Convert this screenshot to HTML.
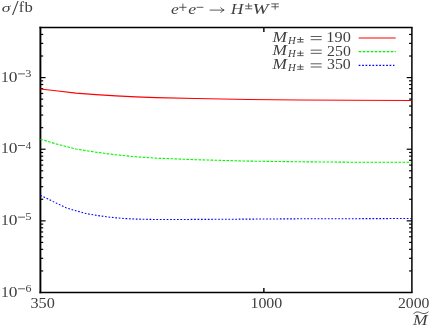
<!DOCTYPE html>
<html><head><meta charset="utf-8"><style>
html,body{margin:0;padding:0;background:#fff;}
svg{display:block}
text{font-family:"Liberation Serif",serif;fill:#3e3e3e;}
</style></head><body>
<svg width="432" height="327" viewBox="0 0 432 327">
<rect width="432" height="327" fill="#fff"/>
<g stroke="#000" fill="none">
<path d="M40.4,26.80 V293.20" stroke-width="1.9"/>
<path d="M39.45,27.5 H412.65" stroke-width="1.5"/>
<path d="M39.45,292.5 H412.65" stroke-width="1.5"/>
<path d="M411.9,27.5 V292.5" stroke-width="1.5"/>
<g stroke-width="1.2">
<path d="M40.4,270.93 h2.8"/>
<path d="M411.9,270.93 h-2.8"/>
<path d="M40.4,258.32 h2.8"/>
<path d="M411.9,258.32 h-2.8"/>
<path d="M40.4,249.37 h2.8"/>
<path d="M411.9,249.37 h-2.8"/>
<path d="M40.4,242.42 h2.8"/>
<path d="M411.9,242.42 h-2.8"/>
<path d="M40.4,236.75 h2.8"/>
<path d="M411.9,236.75 h-2.8"/>
<path d="M40.4,231.96 h2.8"/>
<path d="M411.9,231.96 h-2.8"/>
<path d="M40.4,227.80 h2.8"/>
<path d="M411.9,227.80 h-2.8"/>
<path d="M40.4,224.14 h2.8"/>
<path d="M411.9,224.14 h-2.8"/>
<path d="M40.4,220.86 h5.2"/>
<path d="M411.9,220.86 h-5.2"/>
<path d="M40.4,199.29 h2.8"/>
<path d="M411.9,199.29 h-2.8"/>
<path d="M40.4,186.68 h2.8"/>
<path d="M411.9,186.68 h-2.8"/>
<path d="M40.4,177.73 h2.8"/>
<path d="M411.9,177.73 h-2.8"/>
<path d="M40.4,170.78 h2.8"/>
<path d="M411.9,170.78 h-2.8"/>
<path d="M40.4,165.11 h2.8"/>
<path d="M411.9,165.11 h-2.8"/>
<path d="M40.4,160.31 h2.8"/>
<path d="M411.9,160.31 h-2.8"/>
<path d="M40.4,156.16 h2.8"/>
<path d="M411.9,156.16 h-2.8"/>
<path d="M40.4,152.50 h2.8"/>
<path d="M411.9,152.50 h-2.8"/>
<path d="M40.4,149.22 h5.2"/>
<path d="M411.9,149.22 h-5.2"/>
<path d="M40.4,127.65 h2.8"/>
<path d="M411.9,127.65 h-2.8"/>
<path d="M40.4,115.04 h2.8"/>
<path d="M411.9,115.04 h-2.8"/>
<path d="M40.4,106.08 h2.8"/>
<path d="M411.9,106.08 h-2.8"/>
<path d="M40.4,99.14 h2.8"/>
<path d="M411.9,99.14 h-2.8"/>
<path d="M40.4,93.47 h2.8"/>
<path d="M411.9,93.47 h-2.8"/>
<path d="M40.4,88.67 h2.8"/>
<path d="M411.9,88.67 h-2.8"/>
<path d="M40.4,84.52 h2.8"/>
<path d="M411.9,84.52 h-2.8"/>
<path d="M40.4,80.85 h2.8"/>
<path d="M411.9,80.85 h-2.8"/>
<path d="M40.4,77.58 h5.2"/>
<path d="M411.9,77.58 h-5.2"/>
<path d="M40.4,56.01 h2.8"/>
<path d="M411.9,56.01 h-2.8"/>
<path d="M40.4,43.39 h2.8"/>
<path d="M411.9,43.39 h-2.8"/>
<path d="M40.4,34.44 h2.8"/>
<path d="M411.9,34.44 h-2.8"/>
<path d="M263.86,292.5 v-4.5" stroke-width="1.4"/>
<path d="M263.86,27.5 v4.5" stroke-width="1.4"/>
</g>
</g>
<path d="M40.40,89.00 L58.00,91.00 L76.00,93.10 L96.00,94.60 L116.00,95.90 L136.00,96.90 L156.00,97.60 L196.00,98.50 L248.00,99.50 L300.00,100.00 L352.00,100.30 L411.50,100.45" stroke="#ff0000" stroke-width="1.15" fill="none"/>
<path d="M40.40,139.20 L56.00,143.85 L76.00,149.00 L96.00,152.20 L116.00,154.80 L136.00,156.80 L156.00,158.15 L196.00,159.70 L236.00,160.80 L248.00,161.10 L300.00,161.80 L352.00,162.20 L411.50,162.30" stroke="#00f600" stroke-width="1.1" fill="none" stroke-dasharray="2.7 1.3"/>
<path d="M40.40,195.30 L56.00,203.00 L66.00,207.80 L76.00,210.80 L86.00,213.50 L96.00,215.30 L106.00,216.70 L116.00,217.85 L126.00,218.60 L136.00,219.10 L156.00,219.50 L200.00,219.40 L250.00,219.10 L300.00,218.80 L352.00,218.70 L411.50,218.50" stroke="#0000ff" stroke-width="1.1" fill="none" stroke-dasharray="1.7 1.73"/>
<path d="M358.7,38.0 H395.7" stroke="#ff0000" stroke-width="1.2"/>
<path d="M358.7,51.65 H395.7" stroke="#00f600" stroke-width="1.3" stroke-dasharray="2.7 1.3"/>
<path d="M358.7,65.4 H394.4" stroke="#0000ff" stroke-width="1.3" stroke-dasharray="1.7 1.73"/>
<g opacity="0.999">
<text transform="translate(1.77,11.68) scale(0.0889,0.0638)" font-size="200" font-style="italic">σ</text>
<text transform="translate(11.90,14.60) scale(0.1188,0.1002)" font-size="200">/</text>
<text transform="translate(18.81,11.60) scale(0.0794,0.0703)" font-size="200">f</text>
<text transform="translate(24.50,11.66) scale(0.0833,0.0704)" font-size="200">b</text>
<text transform="translate(170.96,13.86) scale(0.0883,0.0728)" font-size="200" font-style="italic">e</text>
<text transform="translate(188.25,13.86) scale(0.0896,0.0728)" font-size="200" font-style="italic">e</text>
<text transform="translate(230.79,13.90) scale(0.0874,0.0764)" font-size="200" font-style="italic">H</text>
<text transform="translate(252.43,13.77) scale(0.0967,0.0754)" font-size="200" font-style="italic">W</text>
<text transform="translate(1.03,81.68) scale(0.0781,0.0712)" font-size="200">1</text>
<text transform="translate(8.64,81.83) scale(0.0873,0.0726)" font-size="200">0</text>
<text transform="translate(25.31,76.88) scale(0.0617,0.0491)" font-size="200">3</text>
<text transform="translate(1.03,153.32) scale(0.0781,0.0712)" font-size="200">1</text>
<text transform="translate(8.64,153.48) scale(0.0873,0.0726)" font-size="200">0</text>
<text transform="translate(25.69,148.62) scale(0.0549,0.0501)" font-size="200">4</text>
<text transform="translate(1.03,224.96) scale(0.0781,0.0712)" font-size="200">1</text>
<text transform="translate(8.64,225.12) scale(0.0873,0.0726)" font-size="200">0</text>
<text transform="translate(25.16,220.16) scale(0.0633,0.0497)" font-size="200">5</text>
<text transform="translate(1.03,296.60) scale(0.0781,0.0712)" font-size="200">1</text>
<text transform="translate(8.64,296.76) scale(0.0873,0.0726)" font-size="200">0</text>
<text transform="translate(25.39,291.80) scale(0.0597,0.0491)" font-size="200">6</text>
<text transform="translate(30.47,308.05) scale(0.0811,0.0763)" font-size="200">350</text>
<text transform="translate(250.40,308.05) scale(0.0798,0.0763)" font-size="200">1000</text>
<text transform="translate(397.91,308.05) scale(0.0787,0.0763)" font-size="200">2000</text>
<text transform="translate(272.40,41.80) scale(0.0865,0.0748)" font-size="200" font-style="italic">M</text>
<text transform="translate(288.11,43.80) scale(0.0534,0.0527)" font-size="200" font-style="italic">H</text>
<text transform="translate(326.37,41.86) scale(0.0815,0.0711)" font-size="200">190</text>
<text transform="translate(272.40,55.45) scale(0.0865,0.0748)" font-size="200" font-style="italic">M</text>
<text transform="translate(288.11,57.45) scale(0.0534,0.0527)" font-size="200" font-style="italic">H</text>
<text transform="translate(327.11,55.51) scale(0.0790,0.0711)" font-size="200">250</text>
<text transform="translate(272.40,69.10) scale(0.0865,0.0748)" font-size="200" font-style="italic">M</text>
<text transform="translate(288.11,71.10) scale(0.0534,0.0527)" font-size="200" font-style="italic">H</text>
<text transform="translate(327.04,69.16) scale(0.0792,0.0711)" font-size="200">350</text>
<text transform="translate(412.91,325.40) scale(0.0876,0.0710)" font-size="200" font-style="italic">M</text>
</g>
<g stroke="#3e3e3e" stroke-width="0.85" fill="none">
<path d="M179.20,7.30 H186.60"/>
<path d="M182.90,3.60 V11.00"/>
<path d="M196.60,7.30 H203.40"/>
<path d="M209.70,10.10 H224.00"/>
<path d="M220.6,7.4 Q222,9.6 224.2,10.1 Q222,10.6 220.6,12.8"/>
<path d="M245.20,8.80 H252.20"/>
<path d="M245.20,6.00 H252.20"/>
<path d="M248.70,3.20 V8.80"/>
<path d="M271.30,3.90 H278.90"/>
<path d="M271.30,6.80 H278.90"/>
<path d="M275.10,3.90 V9.70"/>
<path d="M18.00,73.88 H25.00"/>
<path d="M18.00,145.52 H25.00"/>
<path d="M18.00,217.16 H25.00"/>
<path d="M18.00,288.80 H25.00"/>
<path d="M297.20,42.00 H303.60"/>
<path d="M297.20,39.50 H303.60"/>
<path d="M300.40,37.00 V42.00"/>
<path d="M310.70,36.50 H321.70"/>
<path d="M310.70,39.70 H321.70"/>
<path d="M297.20,55.65 H303.60"/>
<path d="M297.20,53.15 H303.60"/>
<path d="M300.40,50.65 V55.65"/>
<path d="M310.70,50.15 H321.70"/>
<path d="M310.70,53.35 H321.70"/>
<path d="M297.20,69.30 H303.60"/>
<path d="M297.20,66.80 H303.60"/>
<path d="M300.40,64.30 V69.30"/>
<path d="M310.70,63.80 H321.70"/>
<path d="M310.70,67.00 H321.70"/>
<path d="M413.3,314.2 C415.5,311.2 418.5,311.6 421,312.9 S426.5,313.6 428.6,311.7"/>
</g>
</svg>
</body></html>
